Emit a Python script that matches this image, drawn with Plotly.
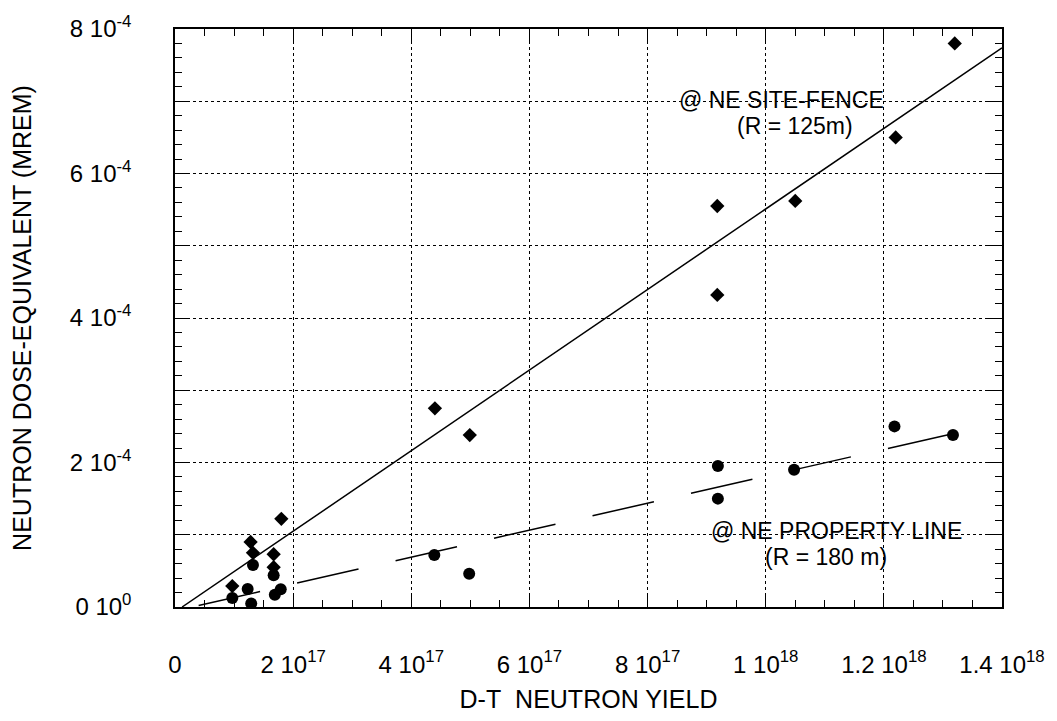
import plotly.graph_objects as go

# ---------------- data ----------------
# NE site-fence (R = 125 m): diamonds
fence_yield = [1.80e17, 1.28e17, 1.32e17, 1.67e17, 1.67e17, 0.97e17,
               4.40e17, 4.99e17, 9.18e17, 9.18e17, 10.5e17, 12.2e17, 13.2e17]
fence_dose = [1.22e-4, 0.90e-4, 0.75e-4, 0.73e-4, 0.55e-4, 0.29e-4,
              2.75e-4, 2.38e-4, 5.55e-4, 4.32e-4, 5.62e-4, 6.50e-4, 7.80e-4]

# NE property line (R = 180 m): circles
prop_yield = [1.32e17, 1.67e17, 1.23e17, 0.97e17, 1.29e17, 1.69e17, 1.79e17,
              4.39e17, 4.98e17, 9.19e17, 9.19e17, 10.48e17, 12.18e17, 13.17e17]
prop_dose = [0.58e-4, 0.44e-4, 0.25e-4, 0.125e-4, 0.05e-4, 0.17e-4, 0.245e-4,
             0.72e-4, 0.46e-4, 1.95e-4, 1.50e-4, 1.90e-4, 2.50e-4, 2.38e-4]

# fitted lines (end points)
fence_fit_x = [0.12e17, 1.4e18]
fence_fit_y = [0.0, 7.74e-4]
prop_fit_x = [0.40e17, 13.17e17]
prop_fit_y = [0.02e-4, 2.40e-4]

# tick labels
x_tick_vals = [0, 2e17, 4e17, 6e17, 8e17, 1e18, 1.2e18, 1.4e18]
x_tick_text = ["0", "2 10<sup>17</sup>", "4 10<sup>17</sup>", "6 10<sup>17</sup>",
               "8 10<sup>17</sup>", "1 10<sup>18</sup>", "1.2 10<sup>18</sup>",
               "1.4 10<sup>18</sup>"]
y_tick_vals = [0, 1e-4, 2e-4, 3e-4, 4e-4, 5e-4, 6e-4, 7e-4, 8e-4]
y_tick_text = ["0 10<sup>0</sup>", "", "2 10<sup>-4</sup>", "", "4 10<sup>-4</sup>",
               "", "6 10<sup>-4</sup>", "", "8 10<sup>-4</sup>"]

# annotation texts and anchor positions (data units)
label_text = ["@ NE SITE-FENCE", "(R = 125m)", "@ NE PROPERTY LINE", "(R = 180 m)"]
label_x = [10.26e17, 10.5e17, 11.2e17, 11.02e17]
label_y = [7.02e-4, 6.66e-4, 1.05e-4, 0.69e-4]

FONT = "Liberation Sans, Arial, Helvetica, sans-serif"

fig = go.Figure()

fig.add_trace(go.Scatter(
    x=fence_fit_x, y=fence_fit_y, mode="lines",
    line=dict(color="black", width=1.5), showlegend=False, hoverinfo="skip"))
fig.add_trace(go.Scatter(
    x=prop_fit_x, y=prop_fit_y, mode="lines",
    line=dict(color="black", width=1.5, dash="63px,38px"),
    showlegend=False, hoverinfo="skip"))
fig.add_trace(go.Scatter(
    x=fence_yield, y=fence_dose, mode="markers", name="NE site-fence",
    marker=dict(symbol="diamond", size=11, color="black"), showlegend=False))
fig.add_trace(go.Scatter(
    x=prop_yield, y=prop_dose, mode="markers", name="NE property line",
    marker=dict(symbol="circle", size=12, color="black"), showlegend=False))

for text, ax_, ay_ in zip(label_text, label_x, label_y):
    fig.add_annotation(x=ax_, y=ay_, xref="x", yref="y", text=text,
                       showarrow=False, font=dict(family=FONT, size=23, color="black"),
                       xanchor="center", yanchor="middle")

axis_common = dict(
    showline=True, linecolor="black", linewidth=1.5, mirror="ticks",
    ticks="inside", ticklen=14, tickwidth=1, tickcolor="black",
    showgrid=True, gridcolor="black", gridwidth=1, griddash="dot",
    zeroline=False, tickmode="array",
    tickfont=dict(family=FONT, size=24, color="black"),
)

fig.update_layout(
    width=1057, height=721, autosize=False,
    margin=dict(l=175, r=52, t=17, b=114),
    paper_bgcolor="white", plot_bgcolor="white",
    font=dict(family=FONT, color="black"),
    xaxis=dict(
        **axis_common,
        range=[0, 1.4e18], tickvals=x_tick_vals, ticktext=x_tick_text,
        ticklabelstandoff=35,
        minor=dict(tickmode="linear", tick0=0, dtick=5e16, ticks="inside",
                   ticklen=7, tickcolor="black", tickwidth=1, showgrid=False),
        title=dict(text="D-T\u00a0 NEUTRON YIELD", standoff=14,
                   font=dict(family=FONT, size=25, color="black")),
    ),
    yaxis=dict(
        **axis_common,
        range=[0, 8e-4], tickvals=y_tick_vals, ticktext=y_tick_text,
        ticklabelstandoff=37,
        minor=dict(tickmode="linear", tick0=0, dtick=2e-5, ticks="inside",
                   ticklen=7, tickcolor="black", tickwidth=1, showgrid=False),
        title=dict(text="NEUTRON DOSE-EQUIVALENT (MREM)", standoff=31,
                   font=dict(family=FONT, size=25, color="black")),
    ),
)

fig.write_html("out.html")
